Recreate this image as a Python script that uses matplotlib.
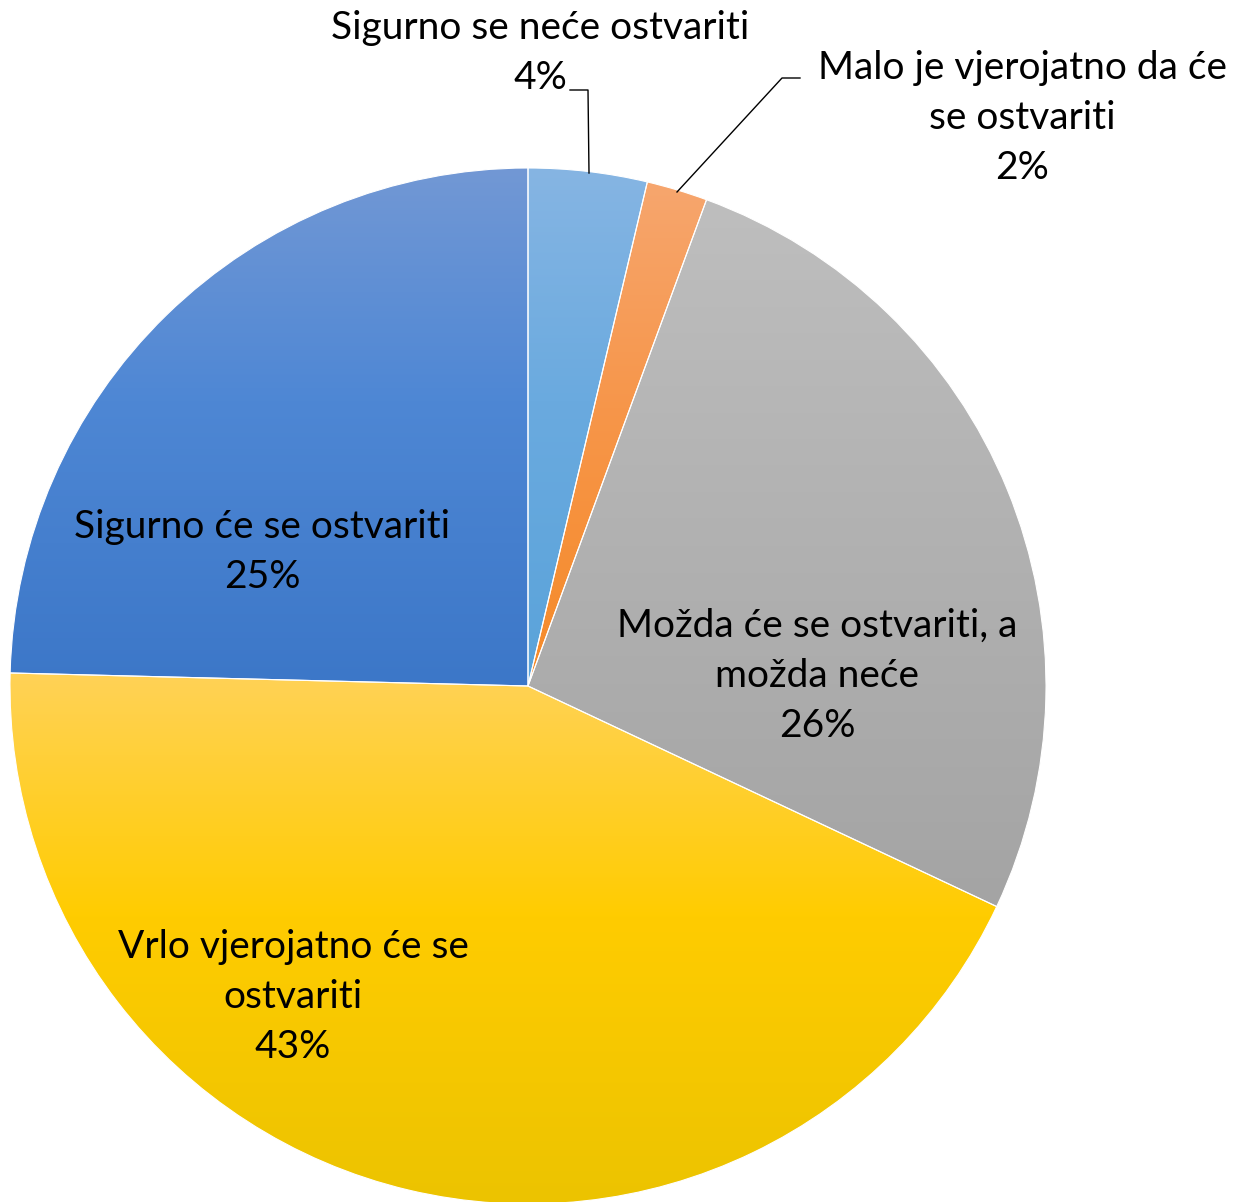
import matplotlib
matplotlib.use("Agg")
import matplotlib.pyplot as plt
import numpy as np
from matplotlib.colors import LinearSegmentedColormap

# data (clockwise from 12 o'clock)
labels = ["Sigurno se neće ostvariti",
          "Malo je vjerojatno da će\nse ostvariti",
          "Možda će se ostvariti, a\nmožda neće",
          "Vrlo vjerojatno će se\nostvariti",
          "Sigurno će se ostvariti"]
shares = [3.7, 1.9, 26.4, 43.4, 24.6]
pct_text = ["4%", "2%", "26%", "43%", "25%"]

# gradient colours per slice: (top, middle, bottom)
grad = [("#86b5e3", "#6aaadf", "#5aa3da"),
        ("#f6a66e", "#f7964a", "#f58a28"),
        ("#bebebe", "#b2b2b2", "#a4a4a4"),
        ("#ffd257", "#ffcc00", "#ebc300"),
        ("#7298d5", "#4e87d4", "#3c77c8")]

W, H = 1237, 1202
plt.rcParams['font.family'] = ['Lato', 'DejaVu Sans']

fig = plt.figure(figsize=(W / 100, H / 100), dpi=100)
ax = fig.add_axes([0, 0, 1, 1])

cx, cy, r = 528, H - 686, 518
wedges, _ = ax.pie(shares, center=(cx, cy), radius=r, startangle=90,
                   counterclock=False,
                   wedgeprops=dict(edgecolor="white", linewidth=0.8))

ramp = np.linspace(0, 1, 256).reshape(-1, 1)
for w, (top, mid, bot) in zip(wedges, grad):
    v = w.get_path().vertices
    x0, x1 = v[:, 0].min(), v[:, 0].max()
    y0, y1 = v[:, 1].min(), v[:, 1].max()
    cm = LinearSegmentedColormap.from_list("g", [(0, bot), (0.55, mid), (1, top)])
    im = ax.imshow(ramp, cmap=cm, origin="lower", extent=(x0, x1, y0, y1),
                   aspect="auto", zorder=1)
    im.set_clip_path(w)
    w.set_facecolor("none")
    w.set_zorder(2)

ax.set_xlim(0, W)
ax.set_ylim(0, H)
ax.axis("off")

# label anchor (centre of first line) in pixel coords
label_pos = [(540, 28), (1022, 68), (817, 626), (293, 947), (262, 527)]
fs = 28
step = 50
for (lx, ly), lab, p in zip(label_pos, labels, pct_text):
    lines = lab.split("\n") + [p]
    for i, line in enumerate(lines):
        ax.text(lx, H - (ly + i * step), line, ha="center", va="center",
                fontsize=fs, color="black", zorder=5)

# leader lines
ax.plot([570, 588, 589], [H - 90, H - 90, H - 173], color="black", lw=1, zorder=4)
ax.plot([800, 782, 677], [H - 78, H - 78, H - 192], color="black", lw=1, zorder=4)

fig.savefig("out.png", dpi=100)
